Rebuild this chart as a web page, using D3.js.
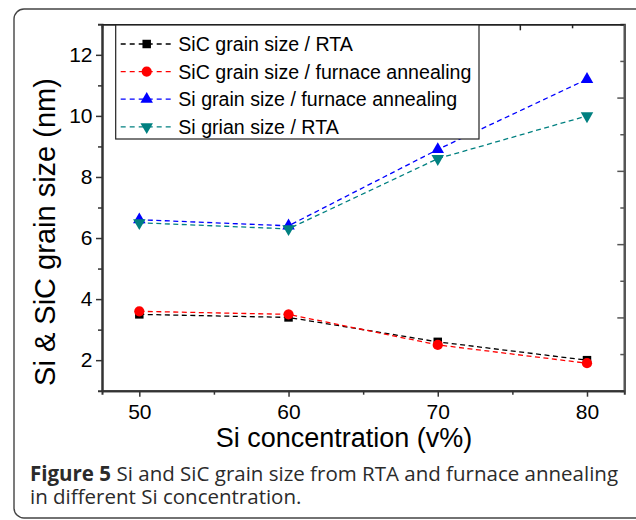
<!DOCTYPE html>
<meta charset="utf-8">
<script src="https://d3js.org/d3.v7.min.js"></script>
<style>
  body { margin: 0; background: #fff; }
  svg { display: block; }
</style>
<div id="my_dataviz"></div>
<script>

// data
var concentrations = [50, 60, 70, 80];
var sicRTA      = [3.5, 3.4, 2.6, 2.0];
var sicFurnace  = [3.6, 3.5, 2.5, 1.9];
var siFurnace   = [6.6, 6.4, 8.9, 11.2];
var siRTA       = [6.5, 6.3, 8.6, 10.0];
var seriesNames = ["SiC grain size / RTA", "SiC grain size / furnace annealing",
                   "Si grain size / furnace annealing", "Si grian size / RTA"];
var yTicks = [2, 4, 6, 8, 10, 12];
var xTicks = [50, 60, 70, 80];

var series = [
  {name: seriesNames[0], values: sicRTA,     color: "#000000", symbol: d3.symbolSquare,   size: 72},
  {name: seriesNames[1], values: sicFurnace, color: "#ff0000", symbol: d3.symbolCircle,   size: 82},
  {name: seriesNames[2], values: siFurnace,  color: "#0000ff", symbol: d3.symbolTriangle, size: 68},
  {name: seriesNames[3], values: siRTA,      color: "#008080", symbol: d3.symbolTriangle, size: 68, flip: true}
];

var W = 636, H = 520;
var margin = {top: 24.3, left: 102},
    width = 522.3,
    height = 366.4;

var svg = d3.select("#my_dataviz")
  .append("svg")
    .attr("width", W)
    .attr("height", H);

// outer rounded frame
svg.append("rect")
  .attr("x", 14).attr("y", 9)
  .attr("width", 660).attr("height", 509)
  .attr("rx", 10)
  .attr("fill", "none")
  .attr("stroke", "#444")
  .attr("stroke-width", 1.4);

var g = svg.append("g")
  .attr("transform", "translate(" + margin.left + "," + margin.top + ")");

var x = d3.scaleLinear().domain([47.5, 82.5]).range([0, width]);
var y = d3.scaleLinear().domain([1, 13]).range([height, 0]);
// top and right axes carry their own 0-10 scale
var xTop = d3.scaleLinear().domain([0, 10]).range([0, width]);
var yRight = d3.scaleLinear().domain([0, 10]).range([height, 0]);

var font = "'Liberation Sans', Arial, sans-serif";

function styleAxis(sel, color, w) {
  sel.select(".domain").attr("stroke", color).attr("stroke-width", w);
  sel.selectAll(".tick line").attr("stroke", color).attr("stroke-width", 1.5);
  sel.selectAll("text").attr("fill", "#000").style("font-family", font).style("font-size", "21px");
}

// minor ticks
g.append("g")
  .call(d3.axisLeft(y).tickValues([3, 5, 7, 9, 11]).tickSize(4).tickFormat(""))
  .call(styleAxis, "#333", 2);
g.append("g")
  .attr("transform", "translate(0," + height + ")")
  .call(d3.axisBottom(x).tickValues([55, 65, 75]).tickSize(4).tickFormat(""))
  .call(styleAxis, "#333", 2);
g.append("g")
  .call(d3.axisBottom(xTop).tickValues([1, 3, 5, 7, 9]).tickSize(4).tickFormat(""))
  .call(styleAxis, "#222", 1.5);
g.append("g")
  .attr("transform", "translate(" + width + ",0)")
  .call(d3.axisLeft(yRight).tickValues([1, 3, 5, 7, 9]).tickSize(4).tickFormat(""))
  .call(styleAxis, "#555", 2.2);

// major ticks
g.append("g")
  .call(d3.axisBottom(xTop).tickValues([2, 4, 6, 8]).tickSize(6).tickSizeOuter(0).tickFormat(""))
  .call(styleAxis, "#222", 1.5);
g.append("g")
  .attr("transform", "translate(" + width + ",0)")
  .call(d3.axisLeft(yRight).tickValues([2, 4, 6, 8]).tickSize(7).tickSizeOuter(0).tickFormat(""))
  .call(styleAxis, "#555", 2.2);
g.append("g")
  .call(d3.axisLeft(y).tickValues(yTicks).tickSize(6).tickSizeOuter(0).tickPadding(3.5))
  .call(styleAxis, "#333", 2);
g.append("g")
  .attr("transform", "translate(0," + height + ")")
  .call(d3.axisBottom(x).tickValues(xTicks).tickSize(6).tickSizeOuter(0).tickPadding(7))
  .call(styleAxis, "#333", 2);

// lines and markers
var line = d3.line()
  .x(function(d, i) { return x(concentrations[i]); })
  .y(function(d) { return y(d); });

series.forEach(function(s) {
  g.append("path")
    .datum(s.values)
    .attr("fill", "none")
    .attr("stroke", s.color)
    .attr("stroke-width", 1.3)
    .attr("stroke-dasharray", "5,3.5")
    .attr("d", line);
});

series.forEach(function(s) {
  g.selectAll(null)
    .data(s.values)
    .enter()
    .append("path")
      .attr("d", d3.symbol().type(s.symbol).size(s.size))
      .attr("transform", function(d, i) {
        return "translate(" + x(concentrations[i]) + "," + y(d) + ")" + (s.flip ? " rotate(180)" : "");
      })
      .attr("fill", s.color);
});

// legend
var legend = svg.append("g").attr("transform", "translate(115.7,25)");
legend.append("rect")
  .attr("width", 363.3).attr("height", 114)
  .attr("fill", "#fff")
  .attr("stroke", "#222")
  .attr("stroke-width", 1.2);

var rows = legend.selectAll("g.row")
  .data(series)
  .enter()
  .append("g")
    .attr("transform", function(d, i) { return "translate(0," + (19 + i * 27.6) + ")"; });

rows.append("line")
  .attr("x1", 5).attr("x2", 56)
  .attr("stroke", function(d) { return d.color; })
  .attr("stroke-width", 1.3)
  .attr("stroke-dasharray", "5,4");
rows.append("path")
  .attr("d", function(d) { return d3.symbol().type(d.symbol).size(d.size)(); })
  .attr("transform", function(d) { return "translate(31,0)" + (d.flip ? " rotate(180)" : ""); })
  .attr("fill", function(d) { return d.color; });
rows.append("text")
  .attr("x", 62.6)
  .attr("dy", "0.36em")
  .style("font-family", font)
  .style("font-size", "19.6px")
  .text(function(d) { return d.name; });

// axis titles
svg.append("text")
  .attr("x", 344)
  .attr("y", 447)
  .attr("text-anchor", "middle")
  .style("font-family", font)
  .style("font-size", "27px")
  .text("Si concentration (v%)");

svg.append("text")
  .attr("transform", "translate(55,232) rotate(-90)")
  .attr("text-anchor", "middle")
  .style("font-family", font)
  .style("font-size", "29px")
  .text("Si & SiC grain size (nm)");

// caption: bold label, then the rest as its own text
var capFont = "'Open Sans', sans-serif";
var capLabel = svg.append("text")
  .attr("x", 30).attr("y", 481)
  .style("font-family", capFont)
  .style("font-size", "20.5px")
  .style("font-weight", "bold")
  .attr("fill", "#2b2b2b")
  .text("Figure 5");
var labelW = capLabel.node().getComputedTextLength();
svg.append("text")
  .attr("x", 30 + labelW + 5.5).attr("y", 481)
  .style("font-family", capFont)
  .style("font-size", "20.5px")
  .attr("fill", "#2b2b2b")
  .text("Si and SiC grain size from RTA and furnace annealing");
svg.append("text")
  .attr("x", 30).attr("y", 504)
  .style("font-family", capFont)
  .style("font-size", "20.5px")
  .attr("fill", "#2b2b2b")
  .text("in different Si concentration.");

</script>
